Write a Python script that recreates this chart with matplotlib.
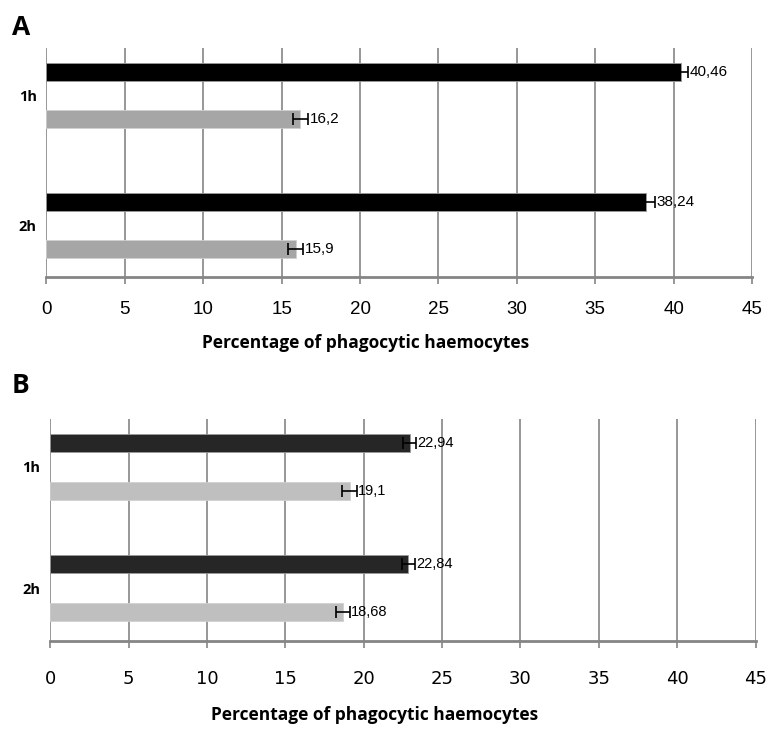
import matplotlib
matplotlib.use("Agg")
import matplotlib.pyplot as plt
import numpy as np

groups = ["1h", "2h"]
# panel A
a_dark = [40.46, 38.24]
a_dark_err = [0.45, 0.55]
a_light = [16.2, 15.9]
a_light_err = [0.47, 0.47]
a_dark_lbl = ["40,46", "38,24"]
a_light_lbl = ["16,2", "15,9"]
# panel B
b_dark = [22.94, 22.84]
b_dark_err = [0.4, 0.42]
b_light = [19.1, 18.68]
b_light_err = [0.45, 0.43]
b_dark_lbl = ["22,94", "22,84"]
b_light_lbl = ["19,1", "18,68"]

xticks = list(range(0, 50, 5))
xlabel = "Percentage of phagocytic haemocytes"

NARROW = ["Liberation Sans", "DejaVu Sans"]
WIDE = ["DejaVu Sans"]
LAB = ["Open Sans", "DejaVu Sans"]

fig = plt.figure(figsize=(7.71, 7.31), dpi=100)


def panel(rect, dark, dark_err, light, light_err, dlbl, llbl, cdark, clight,
          h, off, ylim, tickfont, ticksize, vsize, labpad, labx, laby):
    ax = fig.add_axes(rect)
    y = np.arange(len(groups))
    ax.barh(y - off, dark, height=h, color=cdark, edgecolor="#9a9a9a", linewidth=0.6, zorder=3)
    ax.barh(y + off, light, height=h, color=clight, edgecolor="#d0d0d0", linewidth=0.6, zorder=3)
    ax.errorbar(dark, y - off, xerr=dark_err, fmt="none", ecolor="black", elinewidth=1.2,
                capsize=4, capthick=1.2, zorder=4)
    ax.errorbar(light, y + off, xerr=light_err, fmt="none", ecolor="black", elinewidth=1.2,
                capsize=4, capthick=1.2, zorder=4)
    for v, e, t, yy in zip(dark, dark_err, dlbl, y - off):
        ax.text(v + e + 0.1, yy, t, va="center", ha="left", fontsize=vsize, family=NARROW, zorder=5)
    for v, e, t, yy in zip(light, light_err, llbl, y + off):
        ax.text(v + e + 0.1, yy, t, va="center", ha="left", fontsize=vsize, family=NARROW, zorder=5)
    ax.set_xlim(0, 45)
    ax.set_ylim(*ylim)
    ax.set_xticks(xticks)
    ax.set_xticklabels([str(t) for t in xticks], family=tickfont, fontsize=ticksize)
    ax.set_yticks(y)
    ax.set_yticklabels(groups, fontsize=10.5, fontweight="bold", family=LAB)
    ax.tick_params(axis="y", length=0, pad=7)
    ax.tick_params(axis="x", length=5, color="#858585", width=1.2, pad=labpad)
    ax.grid(axis="x", color="#858585", linewidth=1.2, zorder=0)
    for s in ["top", "right", "left"]:
        ax.spines[s].set_visible(False)
    ax.spines["bottom"].set_color("#858585")
    ax.spines["bottom"].set_linewidth(2)
    ax.set_xlabel(xlabel, fontsize=12.5, fontweight="bold", family=LAB)
    ax.xaxis.set_label_coords(labx, laby)
    return ax


panel([0.0603, 0.621, 0.915, 0.313], a_dark, a_dark_err, a_light, a_light_err,
      a_dark_lbl, a_light_lbl, "#000000", "#a6a6a6",
      0.138, 0.181, (1.396, -0.365), NARROW, 13.5, 11, 12, 0.452, -0.25)
panel([0.065, 0.123, 0.915, 0.304], b_dark, b_dark_err, b_light, b_light_err,
      b_dark_lbl, b_light_lbl, "#262626", "#bfbfbf",
      0.149, 0.196, (1.438, -0.397), WIDE, 13, 10.5, 16, 0.46, -0.29)

fig.text(0.015, 0.962, "A", fontsize=19, fontweight="bold", family=LAB, va="center")
fig.text(0.015, 0.473, "B", fontsize=19, fontweight="bold", family=LAB, va="center")

fig.savefig("out.png", dpi=100)
